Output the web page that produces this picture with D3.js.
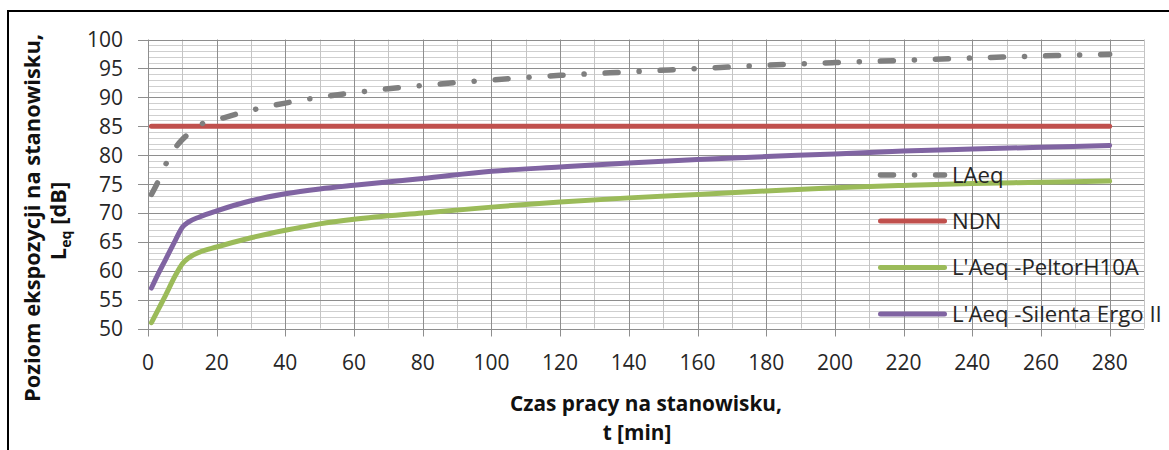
<!DOCTYPE html>
<html><head><meta charset="utf-8">
<script src="https://cdn.jsdelivr.net/npm/d3@7"></script>
<style>body{margin:0;background:#fff}svg{display:block}</style>
</head><body>
<svg id="c" width="1169" height="450"></svg>
<script>
// ---- data ----
const seriesNames = ["LAeq", "NDN", "L'Aeq -PeltorH10A", "L'Aeq -Silenta Ergo II"];
const tMin   = [1, 3, 5, 8, 10, 12, 15, 20, 30, 40, 50, 60, 80, 100, 120, 140, 160, 180, 200, 220, 240, 260, 280];
const laeq   = [73.2, 75.5, 78.2, 81.3, 82.7, 83.8, 85.2, 86.1, 87.75, 89.0, 90.0, 90.8, 92.05, 93.0, 93.8, 94.4, 94.97, 95.55, 96.0, 96.4, 96.8, 97.15, 97.45];
const ndnT   = [1, 280];
const ndn    = [85, 85];
const peltor = [51.0, 53.3, 55.6, 59.2, 61.2, 62.3, 63.2, 64.1, 65.7, 67.0, 68.1, 68.9, 70.0, 71.0, 71.9, 72.6, 73.2, 73.8, 74.35, 74.75, 75.1, 75.3, 75.5];
const silenta= [57.0, 59.5, 61.8, 65.3, 67.5, 68.5, 69.3, 70.35, 72.1, 73.3, 74.15, 74.8, 75.95, 77.2, 77.95, 78.65, 79.25, 79.75, 80.2, 80.7, 81.05, 81.35, 81.65];
const xTicks = [0, 20, 40, 60, 80, 100, 120, 140, 160, 180, 200, 220, 240, 260, 280];
const yTicks = [50, 55, 60, 65, 70, 75, 80, 85, 90, 95, 100];
const xDomain = [0, 290];
const yDomain = [50, 100];

const colors = ["#7f7f7f", "#c0504d", "#9bbb59", "#8064a2"];
const FONT = "'Open Sans', Lato, sans-serif";

const svg = d3.select("#c");
const x = d3.scaleLinear().domain(xDomain).range([148, 1144]);
const y = d3.scaleLinear().domain(yDomain).range([328.5, 39.5]);
const cx = v => Math.round(x(v)) + 0.5;
const cy = v => Math.round(y(v)) + 0.5;

// fit a text element's font size so its rendered length matches a target width
function fit(sel, target) {
  const n = sel.node();
  const fs = parseFloat(getComputedStyle(n).fontSize);
  const w = n.getComputedTextLength();
  const s = fs * target / w;
  sel.style("font-size", s + "px");
  return s;
}

// frame
svg.append("rect").attr("x", 8).attr("y", 11).attr("width", 1300).attr("height", 600)
  .attr("fill", "none").attr("stroke", "#000").attr("stroke-width", 2);

// grid
const grid = svg.append("g");
const minorY = d3.range(yDomain[0], yDomain[1] + 1, 1).filter(v => v % 5 !== 0);
const minorX = d3.range(10, xDomain[1] + 1, 20);
grid.selectAll(".my").data(minorY).join("line")
  .attr("x1", x(0)).attr("x2", x(290)).attr("y1", cy).attr("y2", cy)
  .attr("stroke", "#cfcfcf").attr("stroke-width", 1);
grid.selectAll(".mx").data(minorX).join("line")
  .attr("x1", cx).attr("x2", cx).attr("y1", y(100)).attr("y2", y(50))
  .attr("stroke", "#c4c4c4").attr("stroke-width", 1);
grid.selectAll(".My").data(yTicks).join("line")
  .attr("x1", x(0) - 10).attr("x2", x(290)).attr("y1", cy).attr("y2", cy)
  .attr("stroke", "#8e8e8e").attr("stroke-width", 1);
grid.selectAll(".Mx").data(xTicks).join("line")
  .attr("x1", cx).attr("x2", cx).attr("y1", y(100)).attr("y2", y(50) + 8)
  .attr("stroke", "#8e8e8e").attr("stroke-width", 1);

// tick labels
svg.append("g").selectAll("text").data(yTicks).join("text")
  .attr("x", 123).attr("y", d => y(d)).attr("dy", "0.36em")
  .attr("text-anchor", "end").style("font", `21px ${FONT}`).attr("fill", "#262626")
  .text(d => d);
svg.append("g").selectAll("text").data(xTicks).join("text")
  .attr("x", d => x(d)).attr("y", 370)
  .attr("text-anchor", "middle").style("font", `21px ${FONT}`).attr("fill", "#262626")
  .text(d => d);

// lines
const line = d3.line().x(d => x(d[0])).y(d => y(d[1])).curve(d3.curveMonotoneX);
const series = [
  d3.zip(tMin, laeq),
  d3.zip(ndnT, ndn),
  d3.zip(tMin, peltor),
  d3.zip(tMin, silenta)
];
const dash = "13 21 0.1 21";
[1, 2, 3, 0].forEach(i => {
  svg.append("path").attr("d", line(series[i])).attr("fill", "none")
    .attr("stroke", colors[i]).attr("stroke-width", i === 0 ? 5.5 : 5)
    .attr("stroke-linecap", "round").attr("stroke-linejoin", "round")
    .attr("stroke-dasharray", i === 0 ? dash : null);
});

// legend
const legY = [175, 221, 267.5, 314];
const leg = svg.append("g");
const legTexts = [];
seriesNames.forEach((n, i) => {
  leg.append("line").attr("x1", 880.5).attr("x2", 944.5).attr("y1", legY[i]).attr("y2", legY[i])
    .attr("stroke", colors[i]).attr("stroke-width", i === 0 ? 5.5 : 5)
    .attr("stroke-linecap", "round").attr("stroke-dasharray", i === 0 ? dash : null);
  legTexts.push(leg.append("text").attr("x", 952).attr("y", legY[i] + 7.5)
    .style("font", `21px ${FONT}`).attr("fill", "#262626").text(n));
});
const ls = fit(legTexts[3], 210);
legTexts.forEach(t => t.style("font-size", ls + "px"));

// axis titles
const xt1 = svg.append("text").attr("x", 646).attr("y", 411).attr("text-anchor", "middle")
  .style("font", `bold 21px ${FONT}`).attr("fill", "#111").text("Czas pracy na stanowisku,");
const xs = fit(xt1, 272);
svg.append("text").attr("x", 637).attr("y", 440).attr("text-anchor", "middle")
  .style("font", `bold ${xs}px ${FONT}`).attr("fill", "#111").text("t [min]");
const yt1 = svg.append("text").attr("transform", "translate(40,218) rotate(-90)").attr("text-anchor", "middle")
  .style("font", `bold 21px ${FONT}`).attr("fill", "#111").text("Poziom ekspozycji na stanowisku,");
const ys = fit(yt1, 368);
const t2 = svg.append("text").attr("transform", "translate(66,221) rotate(-90)").attr("text-anchor", "middle")
  .style("font", `bold ${ys}px ${FONT}`).attr("fill", "#111");
t2.append("tspan").text("L");
t2.append("tspan").attr("dy", 5).style("font-size", (ys * 0.65) + "px").text("eq");
t2.append("tspan").attr("dy", -5).text(" [dB]");
</script>
</body></html>
